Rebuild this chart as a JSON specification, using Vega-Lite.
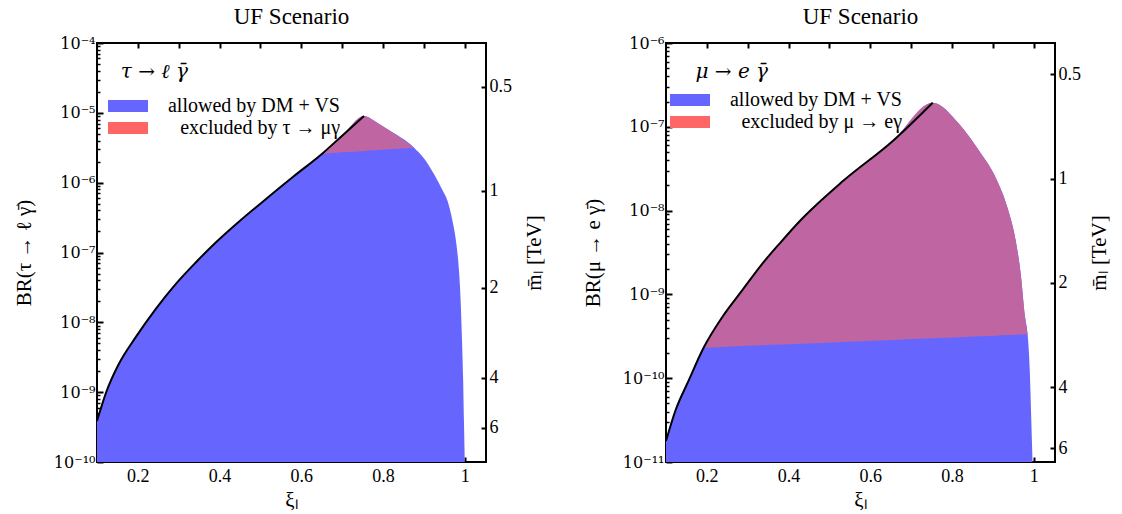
{
  "$schema": "https://vega.github.io/schema/vega-lite/v6.json",
  "padding": {"left": 12, "top": 5, "right": 5, "bottom": 0},
  "background": "white",
  "datasets": {
    "tau_env": [
      {"xi": 0.100, "br": 3.86e-10}, {"xi": 0.122, "br": 9.82e-10}, {"xi": 0.153, "br": 2.51e-9},
      {"xi": 0.194, "br": 6.03e-9}, {"xi": 0.243, "br": 1.535e-8}, {"xi": 0.292, "br": 3.50e-8},
      {"xi": 0.341, "br": 7.14e-8}, {"xi": 0.390, "br": 1.38e-7}, {"xi": 0.450, "br": 2.85e-7},
      {"xi": 0.502, "br": 5.13e-7}, {"xi": 0.580, "br": 1.216e-6}, {"xi": 0.651, "br": 2.60e-6},
      {"xi": 0.700, "br": 4.71e-6}, {"xi": 0.7535, "br": 9.02e-6}, {"xi": 0.780, "br": 7.59e-6},
      {"xi": 0.811, "br": 5.81e-6}, {"xi": 0.876, "br": 3.17e-6}, {"xi": 0.900, "br": 2.24e-6},
      {"xi": 0.925, "br": 1.318e-6}, {"xi": 0.945, "br": 7.94e-7}, {"xi": 0.958, "br": 5.46e-7},
      {"xi": 0.970, "br": 2.82e-7}, {"xi": 0.980, "br": 1.26e-7}, {"xi": 0.986, "br": 5.37e-8},
      {"xi": 0.990, "br": 2.0e-8}, {"xi": 0.993, "br": 6.3e-9}, {"xi": 0.996, "br": 1.58e-9},
      {"xi": 0.998, "br": 3.98e-10}, {"xi": 1.000, "br": 1e-10}
    ],
    "tau_excl": [
      {"xi": 0.651, "top": 2.60e-6, "bot": 2.60e-6}, {"xi": 0.700, "top": 4.71e-6, "bot": 2.72e-6},
      {"xi": 0.7535, "top": 9.02e-6, "bot": 2.85e-6}, {"xi": 0.780, "top": 7.59e-6, "bot": 2.92e-6},
      {"xi": 0.811, "top": 5.81e-6, "bot": 3.01e-6}, {"xi": 0.876, "top": 3.17e-6, "bot": 3.17e-6}
    ],
    "tau_mass": [{"m": 0.5}, {"m": 1}, {"m": 2}, {"m": 4}, {"m": 6}],
    "mu_env": [
      {"xi": 0.100, "br": 1.78e-11}, {"xi": 0.1227, "br": 4.06e-11}, {"xi": 0.155, "br": 9.27e-11},
      {"xi": 0.192, "br": 2.31e-10}, {"xi": 0.2366, "br": 5.27e-10}, {"xi": 0.2854, "br": 1.099e-9},
      {"xi": 0.333, "br": 2.24e-9}, {"xi": 0.379, "br": 4.10e-9}, {"xi": 0.4276, "br": 7.52e-9},
      {"xi": 0.533, "br": 2.25e-8}, {"xi": 0.655, "br": 6.78e-8}, {"xi": 0.7527, "br": 1.94e-7},
      {"xi": 0.818, "br": 1.07e-7}, {"xi": 0.8666, "br": 5.14e-8}, {"xi": 0.907, "br": 2.47e-8},
      {"xi": 0.9357, "br": 1.084e-8}, {"xi": 0.956, "br": 4.34e-9}, {"xi": 0.968, "br": 1.78e-9},
      {"xi": 0.979, "br": 5.27e-10}, {"xi": 0.985, "br": 3.34e-10}, {"xi": 0.990, "br": 1.33e-10},
      {"xi": 0.994, "br": 3.16e-11}, {"xi": 0.997, "br": 1e-11}
    ],
    "mu_excl": [
      {"xi": 0.192, "top": 2.31e-10, "bot": 2.31e-10}, {"xi": 0.2366, "top": 5.27e-10, "bot": 2.36e-10},
      {"xi": 0.2854, "top": 1.099e-9, "bot": 2.42e-10}, {"xi": 0.333, "top": 2.24e-9, "bot": 2.47e-10},
      {"xi": 0.379, "top": 4.10e-9, "bot": 2.52e-10}, {"xi": 0.4276, "top": 7.52e-9, "bot": 2.58e-10},
      {"xi": 0.533, "top": 2.25e-8, "bot": 2.71e-10}, {"xi": 0.655, "top": 6.78e-8, "bot": 2.86e-10},
      {"xi": 0.7527, "top": 1.94e-7, "bot": 3.00e-10}, {"xi": 0.818, "top": 1.07e-7, "bot": 3.09e-10},
      {"xi": 0.8666, "top": 5.14e-8, "bot": 3.16e-10}, {"xi": 0.907, "top": 2.47e-8, "bot": 3.22e-10},
      {"xi": 0.9357, "top": 1.084e-8, "bot": 3.27e-10}, {"xi": 0.956, "top": 4.34e-9, "bot": 3.30e-10},
      {"xi": 0.968, "top": 1.78e-9, "bot": 3.32e-10}, {"xi": 0.979, "top": 5.27e-10, "bot": 3.33e-10},
      {"xi": 0.985, "top": 3.34e-10, "bot": 3.34e-10}
    ],
    "mu_mass": [{"m": 0.5}, {"m": 1}, {"m": 2}, {"m": 4}, {"m": 6}]
  },
  "spacing": 35,
  "resolve": {"scale": {"color": "independent", "x": "independent", "y": "independent"}, "legend": {"color": "independent"}},
  "hconcat": [
    {
      "width": 389, "height": 419,
      "title": "UF Scenario",
      "resolve": {"scale": {"y": "independent"}, "axis": {"x": "independent", "y": "independent"}},
      "layer": [
        {
          "data": {"name": "tau_env"},
          "mark": {"type": "area", "opacity": 1, "interpolate": "monotone"},
          "encoding": {
            "x": {"field": "xi", "type": "quantitative", "scale": {"domain": [0.1, 1.052], "nice": false, "zero": false},
                  "axis": {"orient": "bottom", "values": [0.2, 0.3, 0.4, 0.5, 0.6, 0.7, 0.8, 0.9, 1.0], "tickSize": -5, "labelPadding": 10,
                           "labelExpr": "round(datum.value*10) % 2 == 0 ? format(datum.value, '~g') : ''", "title": "ξₗ", "titlePadding": 4}},
            "y": {"field": "br", "type": "quantitative", "scale": {"type": "log", "domain": [1e-10, 1e-4], "nice": false},
                  "axis": {"orient": "left", "values": [1e-10, 1e-9, 1e-8, 1e-7, 1e-6, 1e-5, 1e-4], "tickSize": -6, "labelPadding": 8,
                           "labelFont": "DejaVu Serif", "labelFontSize": 16,
                           "labelExpr": "'10⁻' + (round(-log(datum.value)/LN10) >= 10 ? '¹' + substring('⁰¹²³⁴⁵⁶⁷⁸⁹', round(-log(datum.value)/LN10)-10, round(-log(datum.value)/LN10)-9) : substring('⁰¹²³⁴⁵⁶⁷⁸⁹', round(-log(datum.value)/LN10), round(-log(datum.value)/LN10)+1))",
                           "title": "BR(τ → ℓ γ̄)", "titlePadding": 19}},
            "y2": {"datum": 1e-10},
            "color": {"datum": "allowed by DM + VS", "type": "nominal",
                      "scale": {"domain": ["allowed by DM + VS", "excluded by τ → μγ"], "range": ["#6666FF", "#FF6666"]},
                      "legend": {"orient": "none", "legendX": 11, "legendY": 19, "title": "\u200b\u00a0\u00a0τ → ℓ γ̄",
                                 "titleFont": "DejaVu Serif", "titleFontSize": 20, "titleFontStyle": "italic", "titleFontWeight": "normal", "titleColor": "black",
                                 "titlePadding": 18, "labelFont": "Liberation Serif", "labelFontSize": 20, "labelColor": "black", "labelLimit": 400,
                                 "labelAlign": "right", "labelOffset": 192, "symbolType": "M-1,-0.3H1V0.3H-1Z", "symbolSize": 1600,
                                 "symbolStrokeWidth": 0, "symbolOpacity": 1, "clipHeight": 12, "rowPadding": 2}}
          }
        },
        {
          "data": {"name": "tau_excl"},
          "mark": {"type": "area", "color": "#BF66A2", "opacity": 1, "interpolate": "monotone"},
          "encoding": {
            "x": {"field": "xi", "type": "quantitative", "scale": {"domain": [0.1, 1.052], "nice": false, "zero": false},
                  "axis": {"orient": "top", "values": [0.2, 0.3, 0.4, 0.5, 0.6, 0.7, 0.8, 0.9, 1.0], "tickSize": -5, "labels": false, "title": null}},
            "y": {"field": "top", "type": "quantitative", "scale": {"type": "log", "domain": [1e-10, 1e-4], "nice": false},
                  "axis": {"orient": "left", "values": [2e-10,3e-10,4e-10,5e-10,6e-10,7e-10,8e-10,9e-10,2e-9,3e-9,4e-9,5e-9,6e-9,7e-9,8e-9,9e-9,2e-8,3e-8,4e-8,5e-8,6e-8,7e-8,8e-8,9e-8,2e-7,3e-7,4e-7,5e-7,6e-7,7e-7,8e-7,9e-7,2e-6,3e-6,4e-6,5e-6,6e-6,7e-6,8e-6,9e-6,2e-5,3e-5,4e-5,5e-5,6e-5,7e-5,8e-5,9e-5],
                           "tickSize": -3, "tickWidth": 1.5, "labels": false, "title": null}},
            "y2": {"field": "bot"}
          }
        },
        {
          "data": {"name": "tau_env"},
          "transform": [{"filter": "datum.xi <= 0.754"}],
          "mark": {"type": "line", "color": "black", "strokeWidth": 2, "interpolate": "monotone"},
          "encoding": {
            "x": {"field": "xi", "type": "quantitative", "scale": {"domain": [0.1, 1.052], "nice": false, "zero": false}, "axis": null},
            "y": {"field": "br", "type": "quantitative", "scale": {"type": "log", "domain": [1e-10, 1e-4], "nice": false}, "axis": null}
          }
        },
        {
          "data": {"name": "tau_mass"},
          "mark": {"type": "point", "opacity": 0},
          "encoding": {
            "y": {"field": "m", "type": "quantitative", "scale": {"type": "pow", "exponent": -0.1, "domain": [0.378, 7.99], "nice": false, "zero": false, "reverse": true},
                  "axis": {"orient": "right", "values": [0.5, 1, 2, 4, 6], "tickSize": -5, "labelPadding": 8, "format": "~g",
                           "title": "m̄ₗ [TeV]", "titleAngle": 270, "titlePadding": 33}}
          }
        }
      ]
    },
    {
      "width": 389, "height": 419,
      "title": "UF Scenario",
      "resolve": {"scale": {"y": "independent"}, "axis": {"x": "independent", "y": "independent"}},
      "layer": [
        {
          "data": {"name": "mu_env"},
          "mark": {"type": "area", "opacity": 1, "interpolate": "monotone"},
          "encoding": {
            "x": {"field": "xi", "type": "quantitative", "scale": {"domain": [0.1, 1.052], "nice": false, "zero": false},
                  "axis": {"orient": "bottom", "values": [0.2, 0.3, 0.4, 0.5, 0.6, 0.7, 0.8, 0.9, 1.0], "tickSize": -5, "labelPadding": 10,
                           "labelExpr": "round(datum.value*10) % 2 == 0 ? format(datum.value, '~g') : ''", "title": "ξₗ", "titlePadding": 4}},
            "y": {"field": "br", "type": "quantitative", "scale": {"type": "log", "domain": [1e-11, 1e-6], "nice": false},
                  "axis": {"orient": "left", "values": [1e-11, 1e-10, 1e-9, 1e-8, 1e-7, 1e-6], "tickSize": -6, "labelPadding": 8,
                           "labelFont": "DejaVu Serif", "labelFontSize": 16,
                           "labelExpr": "'10⁻' + (round(-log(datum.value)/LN10) >= 10 ? '¹' + substring('⁰¹²³⁴⁵⁶⁷⁸⁹', round(-log(datum.value)/LN10)-10, round(-log(datum.value)/LN10)-9) : substring('⁰¹²³⁴⁵⁶⁷⁸⁹', round(-log(datum.value)/LN10), round(-log(datum.value)/LN10)+1))",
                           "title": "BR(μ → e γ̄)", "titlePadding": 19}},
            "y2": {"datum": 1e-11},
            "color": {"datum": "allowed by DM + VS", "type": "nominal",
                      "scale": {"domain": ["allowed by DM + VS", "excluded by μ → eγ"], "range": ["#6666FF", "#FF6666"]},
                      "legend": {"orient": "none", "legendX": 4, "legendY": 19, "title": "\u200b\u00a0\u00a0\u00a0\u00a0μ → e γ̄",
                                 "titleFont": "DejaVu Serif", "titleFontSize": 20, "titleFontStyle": "italic", "titleFontWeight": "normal", "titleColor": "black",
                                 "titlePadding": 12, "labelFont": "Liberation Serif", "labelFontSize": 20, "labelColor": "black", "labelLimit": 400,
                                 "labelAlign": "right", "labelOffset": 192, "symbolType": "M-1,-0.3H1V0.3H-1Z", "symbolSize": 1600,
                                 "symbolStrokeWidth": 0, "symbolOpacity": 1, "clipHeight": 12, "rowPadding": 2}}
          }
        },
        {
          "data": {"name": "mu_excl"},
          "mark": {"type": "area", "color": "#BF66A2", "opacity": 1, "interpolate": "monotone"},
          "encoding": {
            "x": {"field": "xi", "type": "quantitative", "scale": {"domain": [0.1, 1.052], "nice": false, "zero": false},
                  "axis": {"orient": "top", "values": [0.2, 0.3, 0.4, 0.5, 0.6, 0.7, 0.8, 0.9, 1.0], "tickSize": -5, "labels": false, "title": null}},
            "y": {"field": "top", "type": "quantitative", "scale": {"type": "log", "domain": [1e-11, 1e-6], "nice": false},
                  "axis": {"orient": "left", "values": [2e-11,3e-11,4e-11,5e-11,6e-11,7e-11,8e-11,9e-11,2e-10,3e-10,4e-10,5e-10,6e-10,7e-10,8e-10,9e-10,2e-9,3e-9,4e-9,5e-9,6e-9,7e-9,8e-9,9e-9,2e-8,3e-8,4e-8,5e-8,6e-8,7e-8,8e-8,9e-8,2e-7,3e-7,4e-7,5e-7,6e-7,7e-7,8e-7,9e-7],
                           "tickSize": -3, "tickWidth": 1.5, "labels": false, "title": null}},
            "y2": {"field": "bot"}
          }
        },
        {
          "data": {"name": "mu_env"},
          "transform": [{"filter": "datum.xi <= 0.753"}],
          "mark": {"type": "line", "color": "black", "strokeWidth": 2, "interpolate": "monotone"},
          "encoding": {
            "x": {"field": "xi", "type": "quantitative", "scale": {"domain": [0.1, 1.052], "nice": false, "zero": false}, "axis": null},
            "y": {"field": "br", "type": "quantitative", "scale": {"type": "log", "domain": [1e-11, 1e-6], "nice": false}, "axis": null}
          }
        },
        {
          "data": {"name": "mu_mass"},
          "mark": {"type": "point", "opacity": 0},
          "encoding": {
            "y": {"field": "m", "type": "quantitative", "scale": {"type": "log", "domain": [0.406, 6.58], "nice": false, "reverse": true},
                  "axis": {"orient": "right", "values": [0.5, 1, 2, 4, 6], "tickSize": -5, "labelPadding": 8, "format": "~g",
                           "title": "m̄ₗ [TeV]", "titleAngle": 270, "titlePadding": 29}}
          }
        }
      ]
    }
  ],
  "config": {
    "font": "Liberation Serif",
    "view": {"stroke": "black", "strokeWidth": 2},
    "title": {"font": "Liberation Serif", "fontSize": 23, "fontWeight": "normal", "color": "black", "offset": 6},
    "axis": {"labelFont": "Liberation Serif", "titleFont": "Liberation Serif", "labelFontSize": 18, "titleFontSize": 21,
             "titleFontWeight": "normal", "labelColor": "black", "titleColor": "black", "tickColor": "black",
             "domain": false, "grid": false, "tickWidth": 2}
  }
}
